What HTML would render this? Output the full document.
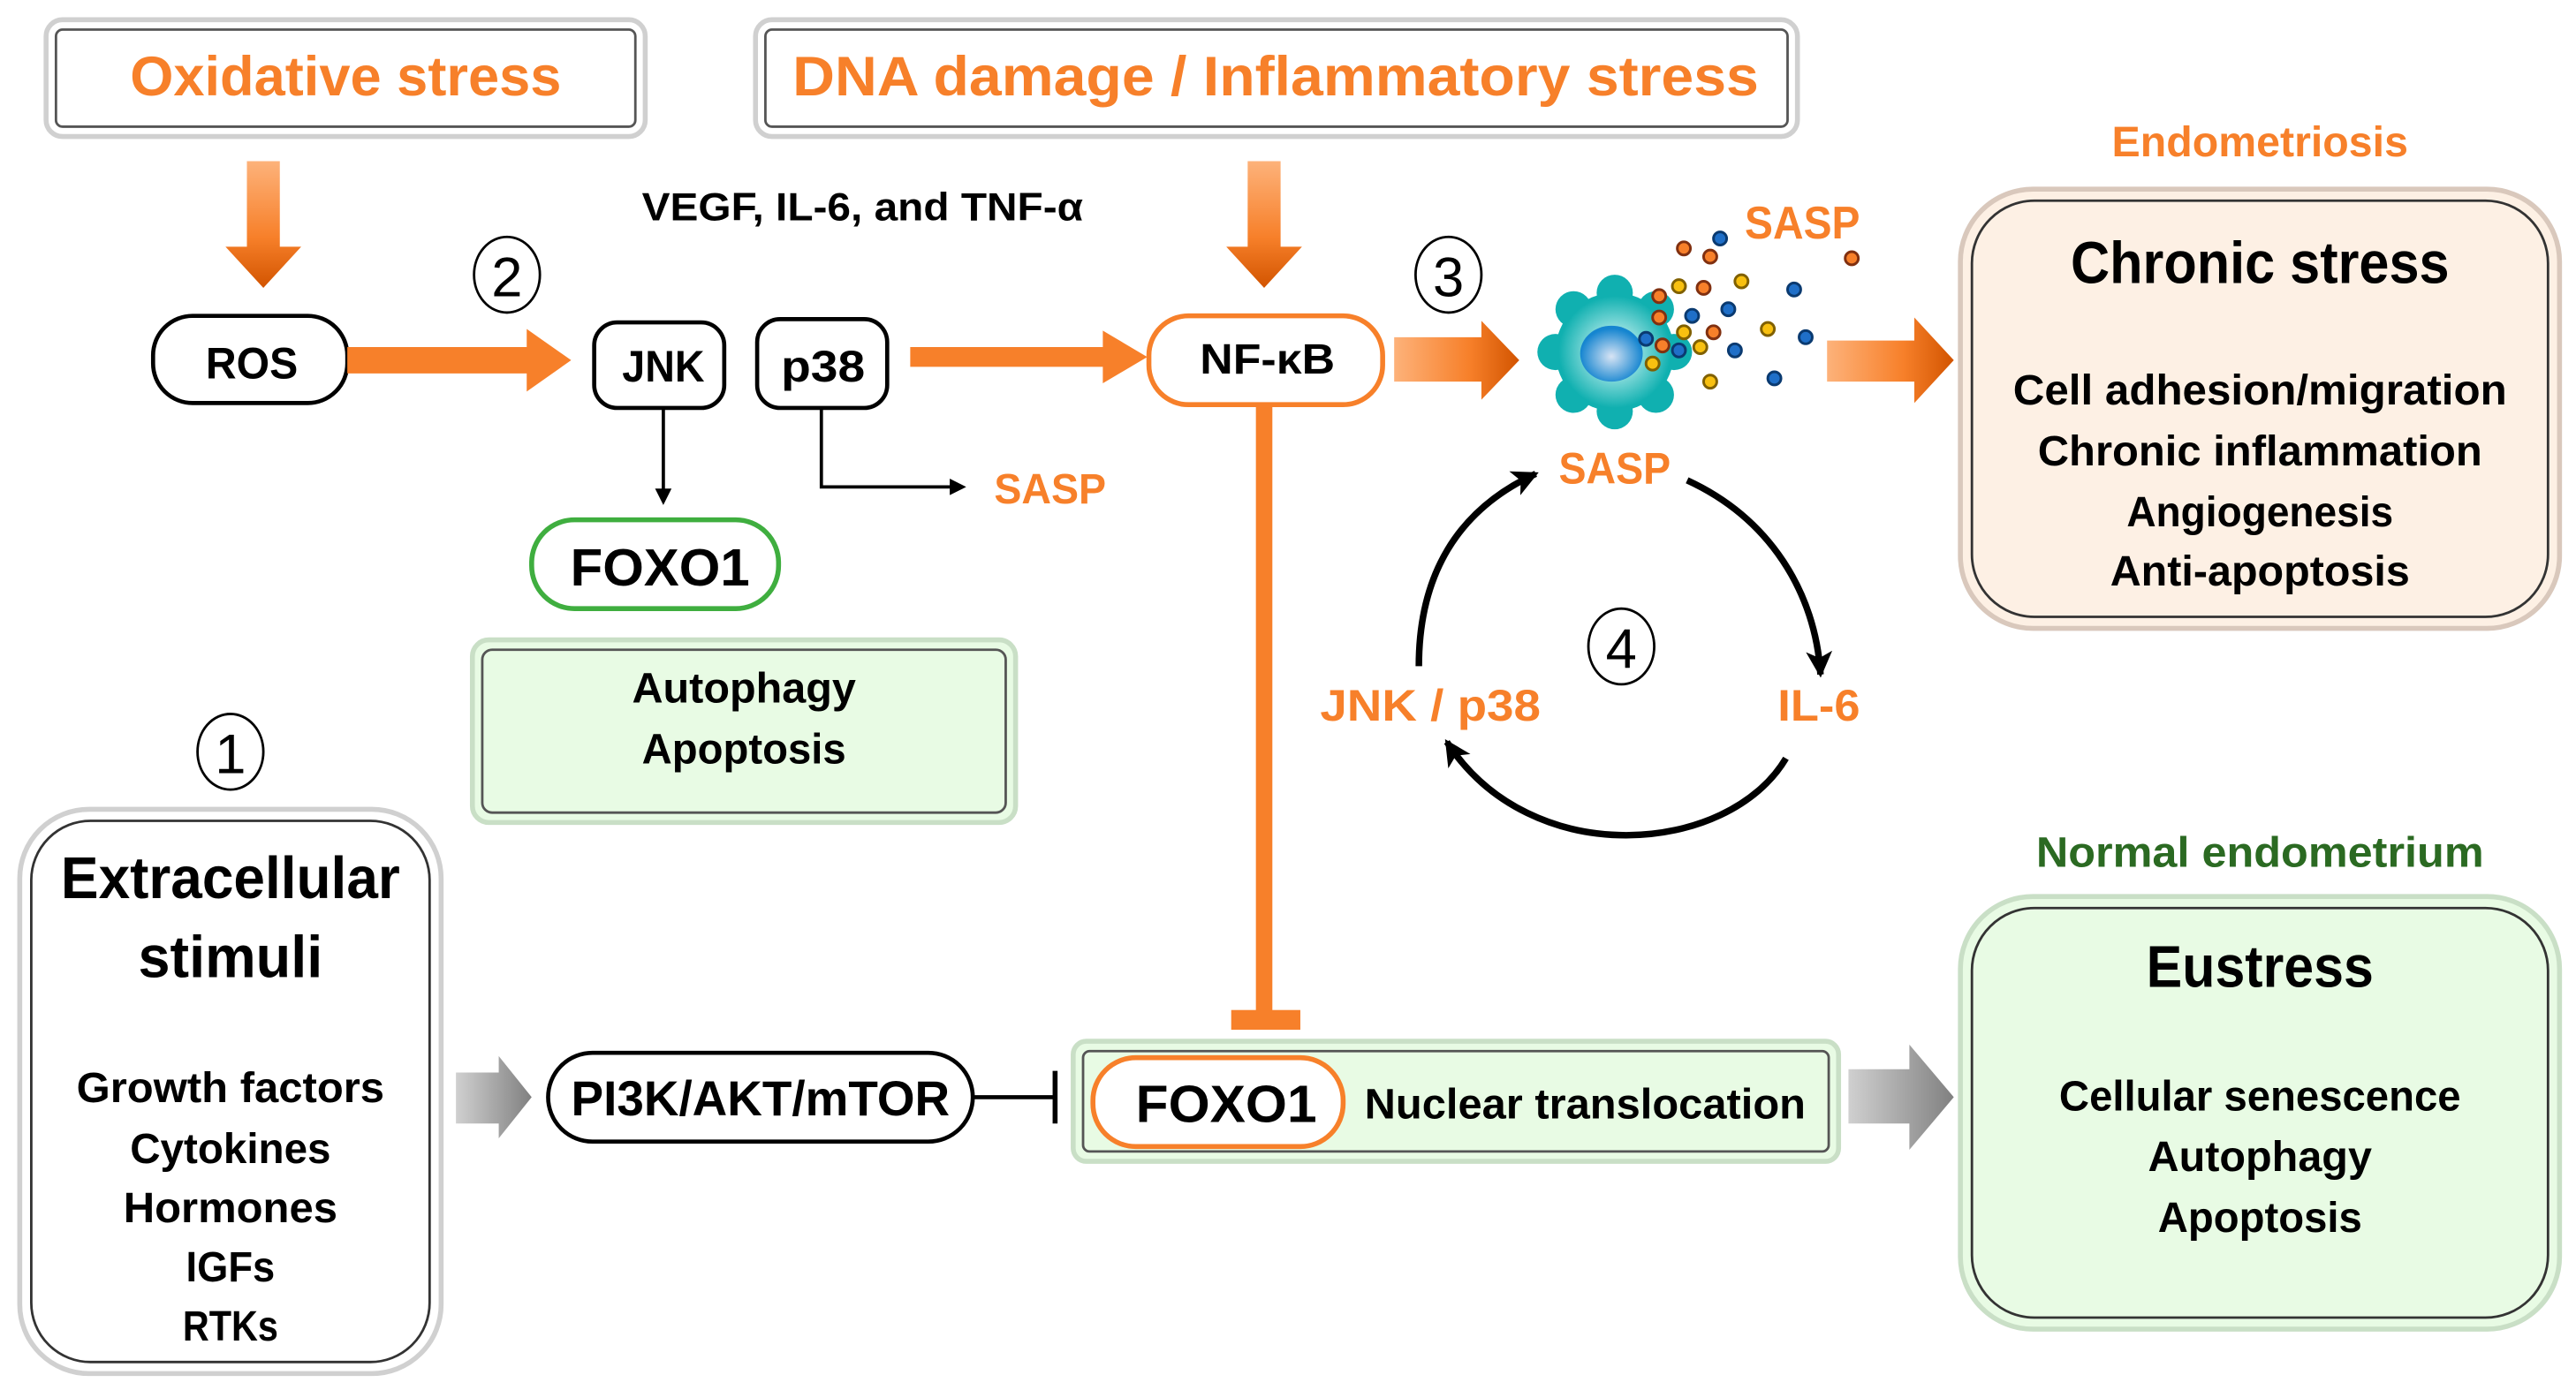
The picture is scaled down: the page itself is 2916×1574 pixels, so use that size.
<!DOCTYPE html>
<html><head><meta charset="utf-8"><style>
html,body{margin:0;padding:0;background:#fff}
svg{display:block}
text{font-family:"Liberation Sans",sans-serif;font-weight:bold}
</style></head><body>
<svg width="2916" height="1574" viewBox="0 0 1565 845" preserveAspectRatio="none" xmlns="http://www.w3.org/2000/svg">
<defs>
<linearGradient id="gv" x1="0" y1="0" x2="0" y2="1"><stop offset="0" stop-color="#fdb27a"/><stop offset="0.6" stop-color="#f7802a"/><stop offset="1" stop-color="#d25400"/></linearGradient>
<linearGradient id="gh" x1="0" y1="0" x2="1" y2="0"><stop offset="0" stop-color="#fdb27a"/><stop offset="0.6" stop-color="#f7802a"/><stop offset="1" stop-color="#d25400"/></linearGradient>
<linearGradient id="gg" x1="0" y1="0" x2="1" y2="0"><stop offset="0" stop-color="#d0d0d0"/><stop offset="1" stop-color="#808080"/></linearGradient>
<radialGradient id="cell" cx="0.5" cy="0.5" r="0.5"><stop offset="0" stop-color="#e8f8f8"/><stop offset="0.5" stop-color="#7fd8d8"/><stop offset="1" stop-color="#10b0b0"/></radialGradient>
<radialGradient id="nuc" cx="0.5" cy="0.55" r="0.5"><stop offset="0" stop-color="#d8e4f4"/><stop offset="1" stop-color="#1585d0"/></radialGradient>
<marker id="ah" markerWidth="10" markerHeight="10" refX="8" refY="5" orient="auto" markerUnits="userSpaceOnUse"><path d="M0,0 L10,5 L0,10 z" fill="#000"/></marker>
<marker id="ah2" markerWidth="16" markerHeight="16" refX="14" refY="8" orient="auto" markerUnits="userSpaceOnUse"><path d="M0,0 L16,8 L0,16 L4,8 z" fill="#000"/></marker>
</defs>

<rect x="28" y="12" width="364" height="71" rx="10" fill="#fff" stroke="#d0d0d0" stroke-width="3"/>
<rect x="34" y="18" width="352" height="59" rx="4" fill="none" stroke="#555" stroke-width="1.5"/>
<text x="210" y="58" text-anchor="middle" font-size="34" fill="#f7802a" textLength="262" lengthAdjust="spacingAndGlyphs">Oxidative stress</text>
<rect x="459" y="12" width="633" height="71" rx="10" fill="#fff" stroke="#d0d0d0" stroke-width="3"/>
<rect x="465" y="18" width="621" height="59" rx="4" fill="none" stroke="#555" stroke-width="1.5"/>
<text x="775" y="58" text-anchor="middle" font-size="34" fill="#f7802a" textLength="587" lengthAdjust="spacingAndGlyphs">DNA damage / Inflammatory stress</text>

<path d="M150,98 H170 V150 H183 L160,175 L137,150 H150 Z" fill="url(#gv)"/>
<path d="M758,98 H778 V150 H791 L768,175 L745,150 H758 Z" fill="url(#gv)"/>

<text x="524" y="134" text-anchor="middle" font-size="24" fill="#000" textLength="268" lengthAdjust="spacingAndGlyphs">VEGF, IL-6, and TNF-α</text>

<ellipse cx="308" cy="167" rx="20" ry="23" fill="none" stroke="#000" stroke-width="1.5"/>
<text x="308" y="180" text-anchor="middle" font-size="34" style="font-weight:normal">2</text>
<ellipse cx="880" cy="167" rx="20" ry="23" fill="none" stroke="#000" stroke-width="1.5"/>
<text x="880" y="180" text-anchor="middle" font-size="34" style="font-weight:normal">3</text>
<ellipse cx="140" cy="457" rx="20" ry="23" fill="none" stroke="#000" stroke-width="1.5"/>
<text x="140" y="470" text-anchor="middle" font-size="34" style="font-weight:normal">1</text>
<ellipse cx="985" cy="393" rx="20" ry="23" fill="none" stroke="#000" stroke-width="1.5"/>
<text x="985" y="406" text-anchor="middle" font-size="34" style="font-weight:normal">4</text>

<rect x="93" y="192" width="118" height="53" rx="24" fill="#fff" stroke="#000" stroke-width="2.5"/>
<text x="153" y="230" text-anchor="middle" font-size="27" textLength="56" lengthAdjust="spacingAndGlyphs">ROS</text>
<path d="M211,211 H320 V200 L347,219 L320,238 V227 H211 Z" fill="#f7802a"/>

<rect x="361" y="196" width="79" height="52" rx="14" fill="#fff" stroke="#000" stroke-width="2.5"/>
<text x="403" y="232" text-anchor="middle" font-size="27" textLength="50" lengthAdjust="spacingAndGlyphs">JNK</text>
<rect x="460" y="194" width="79" height="54" rx="14" fill="#fff" stroke="#000" stroke-width="2.5"/>
<text x="500" y="232" text-anchor="middle" font-size="27" textLength="51" lengthAdjust="spacingAndGlyphs">p38</text>
<path d="M553,211 H670 V201 L697,217 L670,233 V223 H553 Z" fill="#f7802a"/>
<line x1="403" y1="248" x2="403" y2="305" stroke="#000" stroke-width="2" marker-end="url(#ah)"/>
<polyline points="499,248 499,296 585,296" fill="none" stroke="#000" stroke-width="2" marker-end="url(#ah)"/>
<text x="638" y="306" text-anchor="middle" font-size="26" fill="#f7802a" textLength="68" lengthAdjust="spacingAndGlyphs">SASP</text>

<rect x="323" y="316" width="150" height="54" rx="26" fill="#fff" stroke="#3fae3f" stroke-width="3"/>
<text x="401" y="356" text-anchor="middle" font-size="32" textLength="109" lengthAdjust="spacingAndGlyphs">FOXO1</text>
<rect x="287" y="389" width="330" height="111" rx="10" fill="#e8fbe4" stroke="#c9dfc6" stroke-width="3"/>
<rect x="293" y="395" width="318" height="99" rx="6" fill="none" stroke="#555" stroke-width="1.5"/>
<text x="452" y="427" text-anchor="middle" font-size="26" textLength="136" lengthAdjust="spacingAndGlyphs">Autophagy</text>
<text x="452" y="464" text-anchor="middle" font-size="26" textLength="124" lengthAdjust="spacingAndGlyphs">Apoptosis</text>

<rect x="698" y="192" width="142" height="54" rx="24" fill="#fff" stroke="#f7802a" stroke-width="3"/>
<text x="770" y="227" text-anchor="middle" font-size="26" textLength="82" lengthAdjust="spacingAndGlyphs">NF-κB</text>
<rect x="763" y="246" width="10" height="370" fill="#f7802a"/>
<rect x="748" y="614" width="42" height="12" fill="#f7802a"/>
<path d="M847,205 H900 V195 L923,219 L900,243 V232 H847 Z" fill="url(#gh)"/>

<g>
<circle cx="981" cy="214" r="36" fill="#10b0b0"/>
<circle cx="981" cy="178" r="11" fill="#10b0b0"/><circle cx="1006" cy="188" r="11" fill="#10b0b0"/>
<circle cx="1017" cy="214" r="11" fill="#10b0b0"/><circle cx="1006" cy="240" r="11" fill="#10b0b0"/>
<circle cx="981" cy="250" r="11" fill="#10b0b0"/><circle cx="956" cy="240" r="11" fill="#10b0b0"/>
<circle cx="945" cy="214" r="11" fill="#10b0b0"/><circle cx="956" cy="188" r="11" fill="#10b0b0"/>
<circle cx="981" cy="214" r="34" fill="url(#cell)"/>
<ellipse cx="979" cy="215" rx="19" ry="17" fill="url(#nuc)"/>
</g>
<g stroke-width="1.6" transform="translate(0,8)">
<circle cx="1045" cy="137" r="4" fill="#1f6fc8" stroke="#0a3a70"/>
<circle cx="1023" cy="143" r="4" fill="#f7802a" stroke="#803010"/>
<circle cx="1039" cy="148" r="4" fill="#f7802a" stroke="#803010"/>
<circle cx="1125" cy="149" r="4" fill="#f7802a" stroke="#803010"/>
<circle cx="1020" cy="166" r="4" fill="#f8c010" stroke="#806000"/>
<circle cx="1035" cy="167" r="4" fill="#f7802a" stroke="#803010"/>
<circle cx="1058" cy="163" r="4" fill="#f8c010" stroke="#806000"/>
<circle cx="1008" cy="172" r="4" fill="#f7802a" stroke="#803010"/>
<circle cx="1090" cy="168" r="4" fill="#1f6fc8" stroke="#0a3a70"/>
<circle cx="1028" cy="184" r="4" fill="#1f6fc8" stroke="#0a3a70"/>
<circle cx="1050" cy="180" r="4" fill="#1f6fc8" stroke="#0a3a70"/>
<circle cx="1008" cy="185" r="4" fill="#f7802a" stroke="#803010"/>
<circle cx="1023" cy="194" r="4" fill="#f8c010" stroke="#806000"/>
<circle cx="1041" cy="194" r="4" fill="#f7802a" stroke="#803010"/>
<circle cx="1074" cy="192" r="4" fill="#f8c010" stroke="#806000"/>
<circle cx="1097" cy="197" r="4" fill="#1f6fc8" stroke="#0a3a70"/>
<circle cx="1000" cy="198" r="4" fill="#1f6fc8" stroke="#0a3a70"/>
<circle cx="1010" cy="202" r="4" fill="#f7802a" stroke="#803010"/>
<circle cx="1020" cy="205" r="4" fill="#1f6fc8" stroke="#0a3a70"/>
<circle cx="1033" cy="203" r="4" fill="#f8c010" stroke="#806000"/>
<circle cx="1054" cy="205" r="4" fill="#1f6fc8" stroke="#0a3a70"/>
<circle cx="1004" cy="213" r="4" fill="#f8c010" stroke="#806000"/>
<circle cx="1039" cy="224" r="4" fill="#f8c010" stroke="#806000"/>
<circle cx="1078" cy="222" r="4" fill="#1f6fc8" stroke="#0a3a70"/>
</g>
<text x="1095" y="145" text-anchor="middle" font-size="28" fill="#f7802a" textLength="70" lengthAdjust="spacingAndGlyphs">SASP</text>
<path d="M1110,207 H1163 V193 L1187,219 L1163,245 V232 H1110 Z" fill="url(#gh)"/>

<text x="981" y="294" text-anchor="middle" font-size="27" fill="#f7802a" textLength="68" lengthAdjust="spacingAndGlyphs">SASP</text>
<text x="869" y="438" text-anchor="middle" font-size="27" fill="#f7802a" textLength="134" lengthAdjust="spacingAndGlyphs">JNK / p38</text>
<text x="1105" y="438" text-anchor="middle" font-size="27" fill="#f7802a" textLength="50" lengthAdjust="spacingAndGlyphs">IL-6</text>
<path d="M862,405 C862,350 885,310 933,288" fill="none" stroke="#000" stroke-width="4" marker-end="url(#ah2)"/>
<path d="M1025,292 C1075,315 1103,360 1106,410" fill="none" stroke="#000" stroke-width="4" marker-end="url(#ah2)"/>
<path d="M1085,461 C1050,520 930,530 879,451" fill="none" stroke="#000" stroke-width="4" marker-end="url(#ah2)"/>

<text x="1373" y="95" text-anchor="middle" font-size="26" fill="#f7802a" textLength="180" lengthAdjust="spacingAndGlyphs">Endometriosis</text>
<rect x="1191" y="115" width="364" height="267" rx="44" fill="#fdf0e4" stroke="#d9c8bc" stroke-width="3"/>
<rect x="1198" y="122" width="350" height="253" rx="38" fill="none" stroke="#333" stroke-width="1.5"/>
<text x="1373" y="172" text-anchor="middle" font-size="36" textLength="230" lengthAdjust="spacingAndGlyphs">Chronic stress</text>
<text x="1373" y="246" text-anchor="middle" font-size="26" textLength="300" lengthAdjust="spacingAndGlyphs">Cell adhesion/migration</text>
<text x="1373" y="283" text-anchor="middle" font-size="26" textLength="270" lengthAdjust="spacingAndGlyphs">Chronic inflammation</text>
<text x="1373" y="320" text-anchor="middle" font-size="26" textLength="162" lengthAdjust="spacingAndGlyphs">Angiogenesis</text>
<text x="1373" y="356" text-anchor="middle" font-size="26" textLength="182" lengthAdjust="spacingAndGlyphs">Anti-apoptosis</text>

<rect x="12" y="492" width="256" height="343" rx="42" fill="#fff" stroke="#d0d0d0" stroke-width="3"/>
<rect x="19" y="499" width="242" height="329" rx="36" fill="none" stroke="#333" stroke-width="1.5"/>
<text x="140" y="546" text-anchor="middle" font-size="36" textLength="206" lengthAdjust="spacingAndGlyphs">Extracellular</text>
<text x="140" y="594" text-anchor="middle" font-size="36" textLength="112" lengthAdjust="spacingAndGlyphs">stimuli</text>
<text x="140" y="670" text-anchor="middle" font-size="26" textLength="187" lengthAdjust="spacingAndGlyphs">Growth factors</text>
<text x="140" y="707" text-anchor="middle" font-size="26" textLength="122" lengthAdjust="spacingAndGlyphs">Cytokines</text>
<text x="140" y="743" text-anchor="middle" font-size="26" textLength="130" lengthAdjust="spacingAndGlyphs">Hormones</text>
<text x="140" y="779" text-anchor="middle" font-size="26" textLength="54" lengthAdjust="spacingAndGlyphs">IGFs</text>
<text x="140" y="815" text-anchor="middle" font-size="26" textLength="58" lengthAdjust="spacingAndGlyphs">RTKs</text>

<path d="M277,652 H303 V642 L323,667 L303,692 V683 H277 Z" fill="url(#gg)"/>
<rect x="333" y="640" width="258" height="54" rx="27" fill="#fff" stroke="#000" stroke-width="2.5"/>
<text x="462" y="678" text-anchor="middle" font-size="30" textLength="230" lengthAdjust="spacingAndGlyphs">PI3K/AKT/mTOR</text>
<line x1="591" y1="667" x2="641" y2="667" stroke="#000" stroke-width="2.5"/>
<line x1="641" y1="651" x2="641" y2="683" stroke="#000" stroke-width="3"/>

<rect x="652" y="633" width="465" height="73" rx="8" fill="#e8fbe4" stroke="#c9dfc6" stroke-width="3"/>
<rect x="658" y="639" width="453" height="61" rx="4" fill="none" stroke="#555" stroke-width="1.5"/>
<rect x="664" y="643" width="152" height="54" rx="26" fill="#fff" stroke="#f7802a" stroke-width="3"/>
<text x="745" y="682" text-anchor="middle" font-size="32" textLength="110" lengthAdjust="spacingAndGlyphs">FOXO1</text>
<text x="963" y="680" text-anchor="middle" font-size="26" textLength="268" lengthAdjust="spacingAndGlyphs">Nuclear translocation</text>
<path d="M1123,650 H1160 V635 L1187,667 L1160,699 V683 H1123 Z" fill="url(#gg)"/>

<text x="1373" y="527" text-anchor="middle" font-size="26" fill="#2b6a22" textLength="272" lengthAdjust="spacingAndGlyphs">Normal endometrium</text>
<rect x="1191" y="545" width="364" height="263" rx="44" fill="#e8fbe4" stroke="#c9dfc6" stroke-width="3"/>
<rect x="1198" y="552" width="350" height="249" rx="38" fill="none" stroke="#333" stroke-width="1.5"/>
<text x="1373" y="600" text-anchor="middle" font-size="36" textLength="138" lengthAdjust="spacingAndGlyphs">Eustress</text>
<text x="1373" y="675" text-anchor="middle" font-size="26" textLength="244" lengthAdjust="spacingAndGlyphs">Cellular senescence</text>
<text x="1373" y="712" text-anchor="middle" font-size="26" textLength="136" lengthAdjust="spacingAndGlyphs">Autophagy</text>
<text x="1373" y="749" text-anchor="middle" font-size="26" textLength="124" lengthAdjust="spacingAndGlyphs">Apoptosis</text>
</svg>
</body></html>
